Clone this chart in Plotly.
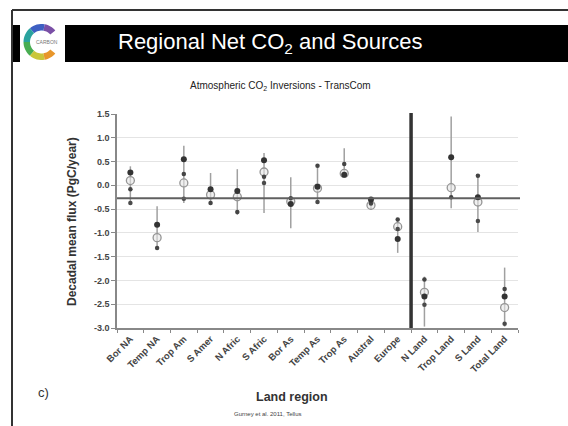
import math
import plotly.graph_objects as go

# Land regions on the x axis
regions = ["Bor NA", "Temp NA", "Trop Am", "S Amer", "N Afric", "S Afric", "Bor As",
           "Temp As", "Trop As", "Austral", "Europe", "N Land", "Trop Land", "S Land",
           "Total Land"]

# Spread of model estimates (PgC/year)
flux_max = [0.40, -0.44, 0.83, 0.26, 0.34, 0.68, 0.17, 0.41, 0.78, -0.27, -0.70, -1.92, 1.45, 0.22, -1.73]
flux_min = [-0.41, -1.35, -0.37, -0.41, -0.62, -0.58, -0.90, -0.37, 0.18, -0.52, -1.42, -2.97, -0.48, -0.98, -2.97]

# Multi-model mean (open circles)
mean_flux = [0.10, -1.10, 0.05, -0.20, -0.24, 0.28, -0.34, -0.06, 0.25, -0.42, -0.87, -2.25, -0.05, -0.35, -2.57]

# Decadal estimates (filled markers)
est_1 = [0.27, -0.83, 0.55, -0.08, -0.12, 0.53, -0.39, -0.03, 0.22, -0.30, -1.13, -2.34, 0.59, -0.25, -2.34]
est_2 = [-0.08, -1.32, 0.24, -0.37, -0.56, 0.18, -0.27, 0.41, 0.45, -0.38, -0.72, -1.98, -0.25, 0.20, -2.18]
est_3 = [-0.37, None, -0.28, None, None, 0.05, None, -0.35, None, None, -0.92, -2.51, None, -0.75, -2.91]

reference_flux = -0.27

y_ticks = [1.5, 1.0, 0.5, 0.0, -0.5, -1.0, -1.5, -2.0, -2.5, -3.0]
y_tick_text = ["1.5", "1.0", "0.5", "0.0", "-0.5", "-1.0", "-1.5", "-2.0", "-2.5", "-3.0"]

W, H = 568, 426
L, R, T, B = 117, 518, 114, 328


def px(x):
    return (x - L) / (R - L)


def py(y):
    return (B - y) / (B - T)


fig = go.Figure()

# vertical range bars
bx, by = [], []
for r, lo, hi in zip(regions, flux_min, flux_max):
    bx += [r, r, None]
    by += [lo, hi, None]
fig.add_trace(go.Scatter(x=bx, y=by, mode="lines",
                         line=dict(color="#a0a0a0", width=1.5), hoverinfo="skip"))

fig.add_trace(go.Scatter(x=regions, y=mean_flux, mode="markers",
                         marker=dict(symbol="circle", size=8, color="rgba(230,230,230,0.6)",
                                     line=dict(color="#959595", width=1.3))))
fig.add_trace(go.Scatter(x=regions, y=est_2, mode="markers",
                         marker=dict(size=4.5, color="#444444")))
fig.add_trace(go.Scatter(x=regions, y=est_3, mode="markers",
                         marker=dict(size=4.5, color="#4a4a4a")))
fig.add_trace(go.Scatter(x=regions, y=est_1, mode="markers",
                         marker=dict(size=6, color="#333333")))

shapes = []
# slide frame
shapes.append(dict(type="line", xref="paper", yref="paper", x0=px(12), x1=px(570),
                   y0=py(10), y1=py(10), line=dict(color="#333", width=2)))
shapes.append(dict(type="line", xref="paper", yref="paper", x0=px(12), x1=px(12),
                   y0=py(10), y1=py(428), line=dict(color="#333", width=2)))
# title bar
shapes.append(dict(type="rect", xref="paper", yref="paper", x0=px(12), x1=px(570),
                   y0=py(62), y1=py(25), fillcolor="black", line=dict(width=0), layer="below"))
# logo tile
shapes.append(dict(type="rect", xref="paper", yref="paper", x0=px(20), x1=px(65),
                   y0=py(63), y1=py(20), fillcolor="white", line=dict(width=0)))

# logo ring segments
cx, cy, ro, ri = 41.5, 42.0, 18.0, 11.5
segments = [(40, 80, "#7a4fa6"), (80, 130, "#3e5fc2"), (130, 180, "#2aa39e"),
            (180, 230, "#48ad52"), (230, 280, "#c9c63a"), (280, 320, "#e8962a")]
for a0, a1, col in segments:
    pts = []
    for k in range(9):
        a = math.radians(a0 + (a1 - a0) * k / 8)
        pts.append((px(cx + ro * math.cos(a)), py(cy - ro * math.sin(a))))
    for k in range(8, -1, -1):
        a = math.radians(a0 + (a1 - a0) * k / 8)
        pts.append((px(cx + ri * math.cos(a)), py(cy - ri * math.sin(a))))
    path = "M " + " L ".join(f"{x:.5f},{y:.5f}" for x, y in pts) + " Z"
    shapes.append(dict(type="path", xref="paper", yref="paper", path=path,
                       fillcolor=col, line=dict(width=0)))

# reference level and land-aggregate divider
shapes.append(dict(type="line", xref="paper", yref="y", x0=0, x1=1.005,
                   y0=reference_flux, y1=reference_flux, line=dict(color="#606060", width=2)))
shapes.append(dict(type="line", xref="x", yref="paper", x0=10.5, x1=10.5,
                   y0=0, y1=py(113), line=dict(color="#333", width=3.5)))

annotations = [
    dict(text="Regional Net CO<sub>2</sub> and Sources", x=px(270), y=py(43),
         font=dict(family="Liberation Sans", size=22, color="white")),
    dict(text="Atmospheric CO<sub>2</sub> Inversions - TransCom", x=px(280), y=py(86),
         font=dict(family="Liberation Sans", size=10, color="#222")),
    dict(text="Decadal mean flux (PgC/year)", x=px(72), y=py(222), textangle=-90,
         font=dict(family="Liberation Sans", size=12, color="#333", weight="bold")),
    dict(text="<b>Land region</b>", x=px(292), y=py(397),
         font=dict(family="Liberation Sans", size=12.5, color="#333")),
    dict(text="c)", x=px(43), y=py(392),
         font=dict(family="Liberation Sans", size=13, color="#333")),
    dict(text="Gurney et al. 2011, Tellus", x=px(268), y=py(414),
         font=dict(family="Liberation Sans", size=6, color="#444")),
    dict(text="CARBON", x=px(47), y=py(42),
         font=dict(family="Liberation Sans", size=5, color="#777")),
]
for a in annotations:
    a.update(xref="paper", yref="paper", showarrow=False, xanchor="center", yanchor="middle")

fig.update_layout(
    width=W, height=H,
    margin=dict(l=L, r=W - R, t=T, b=H - B, pad=0),
    paper_bgcolor="white", plot_bgcolor="white",
    showlegend=False,
    shapes=shapes, annotations=annotations,
    font=dict(family="Liberation Sans"),
)
fig.update_xaxes(type="category", categoryorder="array", categoryarray=regions,
                 range=[-0.5, 14.5], tickson="boundaries", ticks="outside", ticklen=3,
                 tickcolor="#888", showline=True, linecolor="#888", linewidth=1.5,
                 showgrid=False, tickangle=-45,
                 tickfont=dict(size=9.5, color="#444", weight="bold"))
fig.update_yaxes(range=[-3.0, 1.5], tickvals=y_ticks, ticktext=y_tick_text,
                 ticks="outside", ticklen=4, tickcolor="#888",
                 showline=True, linecolor="#888", linewidth=1.5,
                 showgrid=True, gridcolor="#e4e4e4", gridwidth=1, zeroline=False,
                 tickfont=dict(size=9, color="#444", weight="bold"))

fig.write_html("out.html")
